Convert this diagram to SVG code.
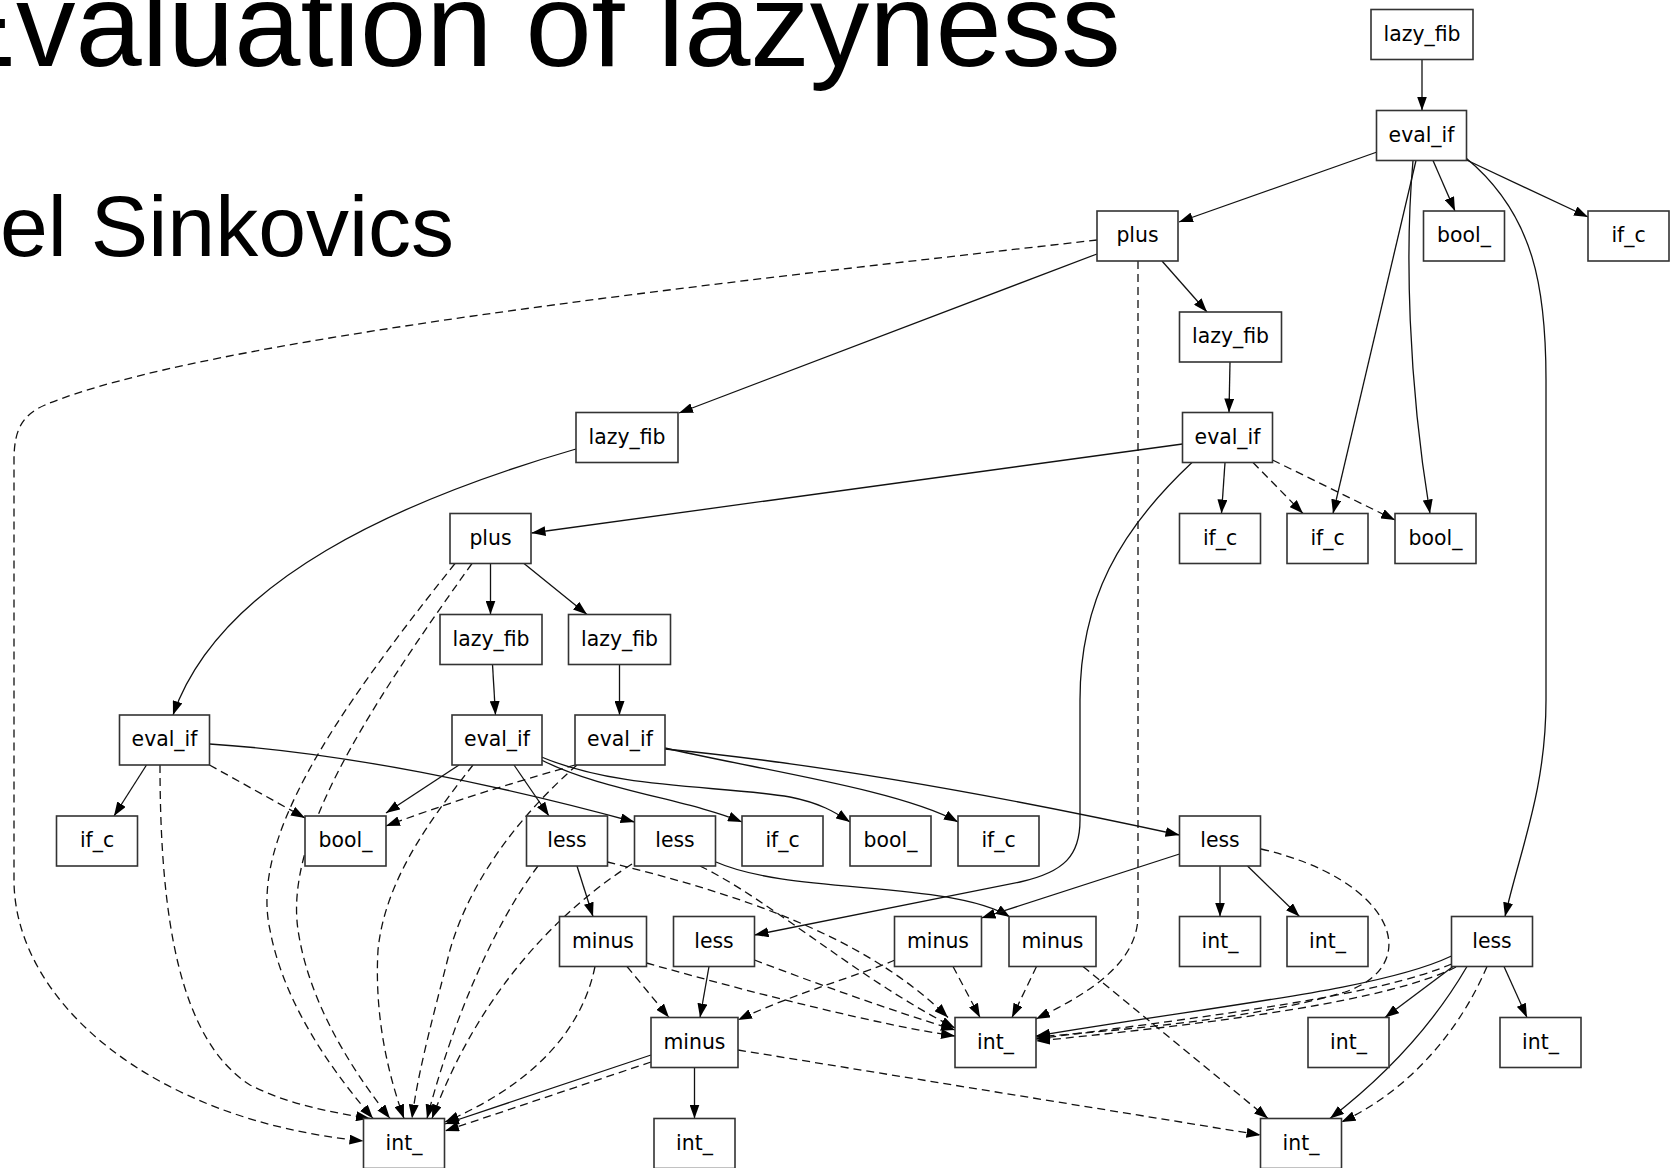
<svg xmlns="http://www.w3.org/2000/svg" width="1676" height="1168" viewBox="0 0 1676 1168">
<style>
.bg{fill:#fff}
.box{fill:#fff;stroke:#333;stroke-width:1.6}
.lbl{font-family:"DejaVu Sans",Verdana,sans-serif;font-size:20.4px;fill:#000;text-anchor:middle}
.e path{fill:none;stroke:#111;stroke-width:1.3}
.e path.s{marker-end:url(#a)}
.e path.d{stroke-dasharray:8,5;marker-end:url(#a)}
.title{font-family:"Liberation Sans",Arial,sans-serif;fill:#000}
</style>
<defs>
<marker id="a" markerWidth="14" markerHeight="10" refX="14" refY="5" orient="auto" markerUnits="userSpaceOnUse"><path d="M0,0L14,5L0,10z" fill="#000"/></marker>
</defs>
<rect class="bg" x="0" y="0" width="1676" height="1168"/>
<text class="title" x="-63.4" y="66" font-size="119">Evaluation of lazyness</text>
<text class="title" x="0" y="256" font-size="86">el Sinkovics</text>
<g id="edges" class="e">
<path class="s" d="M1422,59.5 L1422,110.5"/>
<path class="s" d="M1377,152 L1179,222"/>
<path class="s" d="M1433,160.5 L1455,211"/>
<path class="s" d="M1466.5,160 L1588,217"/>
<path class="s" d="M1416,160.5 L1333,513.5"/>
<path class="s" d="M1413,160.5 C1405,250 1408,380 1430,513.5"/>
<path class="s" d="M1466,158 C1535,215 1546,290 1546,380 L1546,700 C1546,790 1520,850 1505,916.5"/>
<path class="s" d="M1097,254 L679,413"/>
<path class="s" d="M1162,261 L1207,312"/>
<path class="d" d="M1097,240 C700,285 200,340 45,405 C22,415 14,430 14,460 L14,880 C14,1000 150,1120 363.5,1141"/>
<path class="d" d="M1138,261 L1138,915 C1138,965 1085,995 1036,1019"/>
<path class="s" d="M1230,362 L1229,412.5"/>
<path class="s" d="M1182.5,444 L531.5,533"/>
<path class="s" d="M1225,462.5 L1221.5,513.5"/>
<path class="d" d="M1253,462.5 L1303,513.5"/>
<path class="d" d="M1272.5,460 L1395,520"/>
<path class="s" d="M1192,462.5 C1120,530 1080,600 1080,700 L1080,820 C1080,855 1065,872 1020,882 L754.5,935"/>
<path class="s" d="M576,449 C400,500 220,580 173,715"/>
<path class="s" d="M490.5,563.5 L490.5,614.5"/>
<path class="s" d="M524,563.5 L587,614.5"/>
<path class="d" d="M455,563.5 C330,720 250,840 270,930 C285,1010 340,1080 373,1118.5"/>
<path class="d" d="M472,563.5 C360,720 285,840 298,930 C310,1010 360,1080 390,1118.5"/>
<path class="s" d="M492.5,664.5 L495.5,715"/>
<path class="s" d="M619.5,664.5 L619.5,715"/>
<path class="s" d="M146.5,765 L114,816"/>
<path class="d" d="M209.5,765 L305,818"/>
<path class="d" d="M160,765 C160,920 180,1040 250,1085 C290,1105 330,1112 370,1118.5"/>
<path class="s" d="M209.5,744 C340,752 500,785 634.5,822"/>
<path class="s" d="M459,765 L386,813"/>
<path class="s" d="M514,765 L549,816"/>
<path class="s" d="M541.5,760 C600,790 690,800 742,822"/>
<path class="s" d="M541.5,757 C620,790 720,785 790,797 C820,803 835,812 850,822"/>
<path class="d" d="M473,765 C430,820 385,880 378,950 C374,1020 390,1080 404,1118.5"/>
<path class="s" d="M665,748 C760,770 900,790 958,822"/>
<path class="s" d="M665,749 C780,760 950,785 1179.5,835"/>
<path class="d" d="M575,765 C530,778 470,795 386,826"/>
<path class="d" d="M577,765 C520,815 470,880 450,950 C435,1010 418,1070 412,1118.5"/>
<path class="d" d="M538,866 C490,930 450,1030 427,1118.5"/>
<path class="d" d="M632,864 C560,910 480,990 432,1118.5"/>
<path class="d" d="M595,966.5 C580,1040 520,1090 445,1122"/>
<path class="s" d="M577,866 L593,916.5"/>
<path class="d" d="M607.5,862 C720,890 860,930 948,1017.5"/>
<path class="d" d="M700,866 C770,900 860,980 955,1028"/>
<path class="s" d="M716,862 C790,895 950,880 1010,917"/>
<path class="s" d="M1220,866 L1220,916.5"/>
<path class="s" d="M1247.5,866 L1299.5,916.5"/>
<path class="s" d="M1179.5,854 L981.5,918"/>
<path class="d" d="M1261,849 C1395,880 1425,965 1345,992 C1250,1020 1120,1030 1036,1037"/>
<path class="d" d="M627,966.5 L669,1017.5"/>
<path class="d" d="M646.5,963 C760,995 880,1025 955,1036"/>
<path class="s" d="M709,966.5 L700,1017.5"/>
<path class="d" d="M754.5,960 C820,985 890,1010 955,1030"/>
<path class="d" d="M953,966.5 L980,1017.5"/>
<path class="d" d="M895,960 C860,975 790,995 738,1020"/>
<path class="d" d="M1036.5,966.5 L1012,1017.5"/>
<path class="d" d="M1083,966.5 L1268,1118.5"/>
<path class="s" d="M1451.5,956 C1380,990 1220,1005 1036,1036"/>
<path class="d" d="M1451.5,964 C1380,995 1220,1015 1036,1039"/>
<path class="d" d="M1456,967 C1390,1000 1230,1022 1036,1041"/>
<path class="s" d="M1453,966.5 L1385,1017.5"/>
<path class="s" d="M1504,966.5 L1527,1017.5"/>
<path class="s" d="M1467,966.5 C1430,1030 1380,1080 1330,1118.5"/>
<path class="d" d="M1487,966.5 C1460,1030 1410,1090 1341.5,1122"/>
<path class="s" d="M651,1055 L445,1124"/>
<path class="d" d="M651,1062 L445,1131"/>
<path class="s" d="M694.5,1067.5 L694.5,1118.5"/>
<path class="d" d="M738,1050 L1260.5,1135"/>
</g>
<g id="n1"><rect class="box" x="1371" y="9.5" width="102" height="50"/><text class="lbl" x="1422" y="40.5">lazy_fib</text></g>
<g id="n2"><rect class="box" x="1376.5" y="110.5" width="90" height="50"/><text class="lbl" x="1421.5" y="141.5">eval_if</text></g>
<g id="n3"><rect class="box" x="1097" y="211" width="81" height="50"/><text class="lbl" x="1137.5" y="242">plus</text></g>
<g id="n4"><rect class="box" x="1423.5" y="211" width="81" height="50"/><text class="lbl" x="1464" y="242">bool_</text></g>
<g id="n5"><rect class="box" x="1588" y="211" width="81" height="50"/><text class="lbl" x="1628.5" y="242">if_c</text></g>
<g id="n6"><rect class="box" x="1179.5" y="312" width="102" height="50"/><text class="lbl" x="1230.5" y="343">lazy_fib</text></g>
<g id="n7"><rect class="box" x="576" y="412.5" width="102" height="50"/><text class="lbl" x="627" y="443.5">lazy_fib</text></g>
<g id="n8"><rect class="box" x="1182.5" y="412.5" width="90" height="50"/><text class="lbl" x="1227.5" y="443.5">eval_if</text></g>
<g id="n9"><rect class="box" x="450" y="513.5" width="81" height="50"/><text class="lbl" x="490.5" y="544.5">plus</text></g>
<g id="n10"><rect class="box" x="1179.5" y="513.5" width="81" height="50"/><text class="lbl" x="1220" y="544.5">if_c</text></g>
<g id="n11"><rect class="box" x="1287" y="513.5" width="81" height="50"/><text class="lbl" x="1327.5" y="544.5">if_c</text></g>
<g id="n12"><rect class="box" x="1395" y="513.5" width="81" height="50"/><text class="lbl" x="1435.5" y="544.5">bool_</text></g>
<g id="n13"><rect class="box" x="440" y="614.5" width="102" height="50"/><text class="lbl" x="491" y="645.5">lazy_fib</text></g>
<g id="n14"><rect class="box" x="568.5" y="614.5" width="102" height="50"/><text class="lbl" x="619.5" y="645.5">lazy_fib</text></g>
<g id="n15"><rect class="box" x="119.5" y="715" width="90" height="50"/><text class="lbl" x="164.5" y="746">eval_if</text></g>
<g id="n16"><rect class="box" x="452" y="715" width="90" height="50"/><text class="lbl" x="497" y="746">eval_if</text></g>
<g id="n17"><rect class="box" x="575" y="715" width="90" height="50"/><text class="lbl" x="620" y="746">eval_if</text></g>
<g id="n18"><rect class="box" x="56.5" y="816" width="81" height="50"/><text class="lbl" x="97" y="847">if_c</text></g>
<g id="n19"><rect class="box" x="305" y="816" width="81" height="50"/><text class="lbl" x="345.5" y="847">bool_</text></g>
<g id="n20"><rect class="box" x="526.5" y="816" width="81" height="50"/><text class="lbl" x="567" y="847">less</text></g>
<g id="n21"><rect class="box" x="634.5" y="816" width="81" height="50"/><text class="lbl" x="675" y="847">less</text></g>
<g id="n22"><rect class="box" x="742" y="816" width="81" height="50"/><text class="lbl" x="782.5" y="847">if_c</text></g>
<g id="n23"><rect class="box" x="850" y="816" width="81" height="50"/><text class="lbl" x="890.5" y="847">bool_</text></g>
<g id="n24"><rect class="box" x="958" y="816" width="81" height="50"/><text class="lbl" x="998.5" y="847">if_c</text></g>
<g id="n25"><rect class="box" x="1179.5" y="816" width="81" height="50"/><text class="lbl" x="1220" y="847">less</text></g>
<g id="n26"><rect class="box" x="559.5" y="916.5" width="87" height="50"/><text class="lbl" x="603" y="947.5">minus</text></g>
<g id="n27"><rect class="box" x="673.5" y="916.5" width="81" height="50"/><text class="lbl" x="714" y="947.5">less</text></g>
<g id="n28"><rect class="box" x="894.5" y="916.5" width="87" height="50"/><text class="lbl" x="938" y="947.5">minus</text></g>
<g id="n29"><rect class="box" x="1009" y="916.5" width="87" height="50"/><text class="lbl" x="1052.5" y="947.5">minus</text></g>
<g id="n30"><rect class="box" x="1179.5" y="916.5" width="81" height="50"/><text class="lbl" x="1220" y="947.5">int_</text></g>
<g id="n31"><rect class="box" x="1287" y="916.5" width="81" height="50"/><text class="lbl" x="1327.5" y="947.5">int_</text></g>
<g id="n32"><rect class="box" x="1451.5" y="916.5" width="81" height="50"/><text class="lbl" x="1492" y="947.5">less</text></g>
<g id="n33"><rect class="box" x="651" y="1017.5" width="87" height="50"/><text class="lbl" x="694.5" y="1048.5">minus</text></g>
<g id="n34"><rect class="box" x="955" y="1017.5" width="81" height="50"/><text class="lbl" x="995.5" y="1048.5">int_</text></g>
<g id="n35"><rect class="box" x="1308" y="1017.5" width="81" height="50"/><text class="lbl" x="1348.5" y="1048.5">int_</text></g>
<g id="n36"><rect class="box" x="1500" y="1017.5" width="81" height="50"/><text class="lbl" x="1540.5" y="1048.5">int_</text></g>
<g id="n37"><rect class="box" x="363.5" y="1118.5" width="81" height="50"/><text class="lbl" x="404" y="1149.5">int_</text></g>
<g id="n38"><rect class="box" x="654" y="1118.5" width="81" height="50"/><text class="lbl" x="694.5" y="1149.5">int_</text></g>
<g id="n39"><rect class="box" x="1260.5" y="1118.5" width="81" height="50"/><text class="lbl" x="1301" y="1149.5">int_</text></g>
</svg>
